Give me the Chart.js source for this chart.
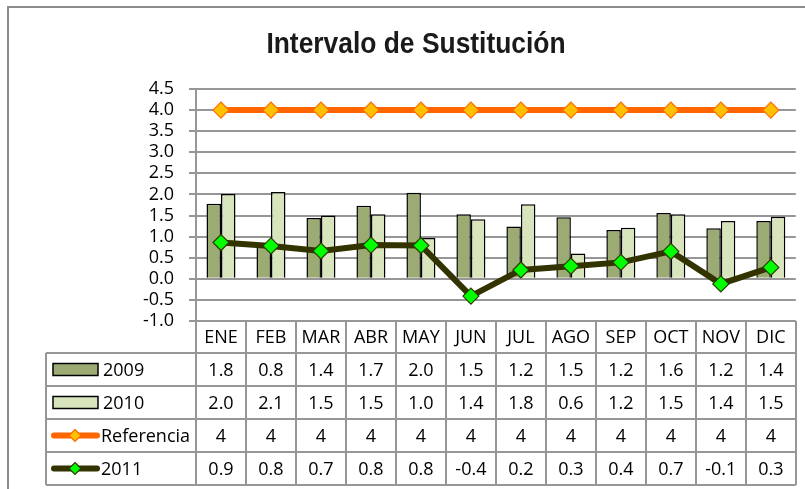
<!DOCTYPE html>
<html>
<head>
<meta charset="utf-8">
<title>Intervalo de Sustitución</title>
<script src="https://cdn.jsdelivr.net/npm/chart.js@4.4.1/dist/chart.umd.min.js"></script>
<style>
  html, body { margin: 0; padding: 0; background: #fff; }
  #wrap { width: 805px; height: 489px; }
</style>
</head>
<body>
<div id="wrap"><canvas id="chart" width="805" height="489"></canvas></div>
<script>
// --- Data ---
const months = ['ENE', 'FEB', 'MAR', 'ABR', 'MAY', 'JUN', 'JUL', 'AGO', 'SEP', 'OCT', 'NOV', 'DIC'];
const values2009 = [1.78, 0.80, 1.44, 1.73, 2.04, 1.53, 1.24, 1.46, 1.16, 1.56, 1.20, 1.37];
const values2010 = [2.01, 2.06, 1.50, 1.53, 0.97, 1.41, 1.77, 0.60, 1.21, 1.53, 1.37, 1.47];
const valuesRef  = [4, 4, 4, 4, 4, 4, 4, 4, 4, 4, 4, 4];
const values2011 = [0.86, 0.78, 0.66, 0.80, 0.79, -0.41, 0.21, 0.30, 0.39, 0.65, -0.12, 0.27];
const yMin = -1.0;
const yMax = 4.5;
const yStep = 0.5;
const chartTitle = 'Intervalo de Sustitución';

const FONT = '"Open Sans", "Liberation Sans", sans-serif';
const GRID = '#969696';

// --- Frame, narrow title and the data table under the plot (aligned to the x scale) ---
const dataTable = {
    id: 'dataTable',
    beforeDraw(chart) {
        const ctx = chart.ctx;
        ctx.save();
        ctx.fillStyle = '#fff';
        ctx.fillRect(0, 0, chart.width, chart.height);
        ctx.strokeStyle = '#8c8c8c';
        ctx.lineWidth = 2;
        ctx.strokeRect(8, 7, chart.width + 20, chart.height + 20);

        // title, squeezed horizontally to mimic a narrow bold face
        ctx.fillStyle = '#1a1a1a';
        ctx.font = 'bold 30px "Liberation Sans", Arial, sans-serif';
        ctx.textAlign = 'center';
        ctx.textBaseline = 'middle';
        ctx.translate(416, 45);
        ctx.scale(0.88, 1);
        ctx.fillText(chartTitle, 0, 0);
        ctx.restore();
    },
    afterDraw(chart) {
        const { ctx, chartArea: ca, scales: { x } } = chart;
        const sets = chart.data.datasets;
        const colW = x.getPixelForValue(1) - x.getPixelForValue(0);
        const headTop = ca.bottom;
        const headH = 32;
        const rowH = 33;
        const bodyTop = headTop + headH;
        const bottom = bodyTop + rowH * sets.length;
        const keyLeft = 46;

        ctx.save();
        ctx.strokeStyle = GRID;
        ctx.lineWidth = 2;
        ctx.beginPath();
        // column borders
        for (let i = 0; i <= months.length; i++) {
            const px = Math.round(x.getPixelForValue(i) - colW / 2);
            ctx.moveTo(px, headTop);
            ctx.lineTo(px, bottom);
        }
        // row borders
        for (let r = 0; r <= sets.length; r++) {
            const py = Math.round(bodyTop + r * rowH);
            ctx.moveTo(keyLeft, py);
            ctx.lineTo(ca.right, py);
        }
        ctx.moveTo(keyLeft, bodyTop);
        ctx.lineTo(keyLeft, bottom);
        ctx.stroke();

        ctx.fillStyle = '#000';
        ctx.font = '18px ' + FONT;
        ctx.textBaseline = 'middle';
        ctx.textAlign = 'center';
        months.forEach((m, i) => {
            ctx.fillText(m, x.getPixelForValue(i), headTop + headH / 2 + 1);
        });

        sets.forEach((ds, r) => {
            const cy = bodyTop + r * rowH + rowH / 2;
            // legend key
            if (ds.type === 'line') {
                ctx.strokeStyle = ds.borderColor;
                ctx.lineWidth = 6;
                ctx.lineCap = 'round';
                ctx.beginPath();
                ctx.moveTo(54, cy);
                ctx.lineTo(97, cy);
                ctx.stroke();
                ctx.lineCap = 'butt';
                ctx.fillStyle = ds.pointBackgroundColor;
                ctx.strokeStyle = ds.pointBorderColor;
                ctx.lineWidth = 1.2;
                ctx.beginPath();
                ctx.moveTo(75, cy - 6);
                ctx.lineTo(81, cy);
                ctx.lineTo(75, cy + 6);
                ctx.lineTo(69, cy);
                ctx.closePath();
                ctx.fill();
                ctx.stroke();
            } else {
                ctx.fillStyle = ds.backgroundColor;
                ctx.fillRect(53, cy - 6, 45, 12);
                ctx.strokeStyle = '#000';
                ctx.lineWidth = 1.5;
                ctx.strokeRect(53, cy - 6, 45, 12);
            }
            ctx.fillStyle = '#000';
            ctx.textAlign = 'left';
            ctx.fillText(ds.label, ds.type === 'line' ? 101 : 103, cy + 1);
            ctx.textAlign = 'center';
            ds.data.forEach((v, i) => {
                ctx.fillText(v.toFixed(ds.decimals), x.getPixelForValue(i), cy + 1);
            });
        });

        // y axis line continues through the header
        ctx.strokeStyle = GRID;
        ctx.lineWidth = 2;
        ctx.beginPath();
        ctx.moveTo(Math.round(ca.left), ca.top);
        ctx.lineTo(Math.round(ca.left), bottom);
        ctx.stroke();
        ctx.restore();
    }
};

const ctx = document.getElementById('chart').getContext('2d');
new Chart(ctx, {
    type: 'bar',
    data: {
        labels: months,
        datasets: [
            {
                type: 'bar',
                label: '2009',
                data: values2009,
                decimals: 1,
                backgroundColor: '#9bab73',
                borderColor: '#000',
                borderWidth: 1.5,
                order: 2
            },
            {
                type: 'bar',
                label: '2010',
                data: values2010,
                decimals: 1,
                backgroundColor: '#d8e4bc',
                borderColor: '#000',
                borderWidth: 1.5,
                order: 2
            },
            {
                type: 'line',
                label: 'Referencia',
                data: valuesRef,
                decimals: 0,
                borderColor: '#ff6600',
                borderWidth: 6,
                pointStyle: 'rectRot',
                pointRadius: 8,
                pointBackgroundColor: '#ffc000',
                pointBorderColor: '#ff6a00',
                pointBorderWidth: 1.2,
                order: 1
            },
            {
                type: 'line',
                label: '2011',
                data: values2011,
                decimals: 1,
                borderColor: '#333300',
                borderWidth: 6,
                pointStyle: 'rectRot',
                pointRadius: 8,
                pointBackgroundColor: '#00ff00',
                pointBorderColor: '#2e3a00',
                pointBorderWidth: 1.2,
                order: 0
            }
        ]
    },
    options: {
        responsive: false,
        animation: false,
        devicePixelRatio: 1,
        layout: { padding: { left: 36, right: 8, top: 89, bottom: 168 } },
        datasets: {
            bar: { categoryPercentage: 0.58, barPercentage: 1 }
        },
        scales: {
            x: {
                display: false,
                offset: true
            },
            y: {
                min: yMin,
                max: yMax,
                afterFit: (scale) => { scale.width = 160; },
                ticks: {
                    stepSize: yStep,
                    autoSkip: false,
                    padding: 15,
                    color: '#000',
                    font: { family: FONT, size: 18, lineHeight: 1 },
                    callback: (v) => Number(v).toFixed(1)
                },
                grid: { color: GRID, lineWidth: 2, tickLength: 7 },
                border: { display: true, color: GRID, width: 2 }
            }
        },
        plugins: {
            legend: { display: false },
            tooltip: { enabled: false },
            title: { display: false }
        }
    },
    plugins: [dataTable]
});
</script>
</body>
</html>
